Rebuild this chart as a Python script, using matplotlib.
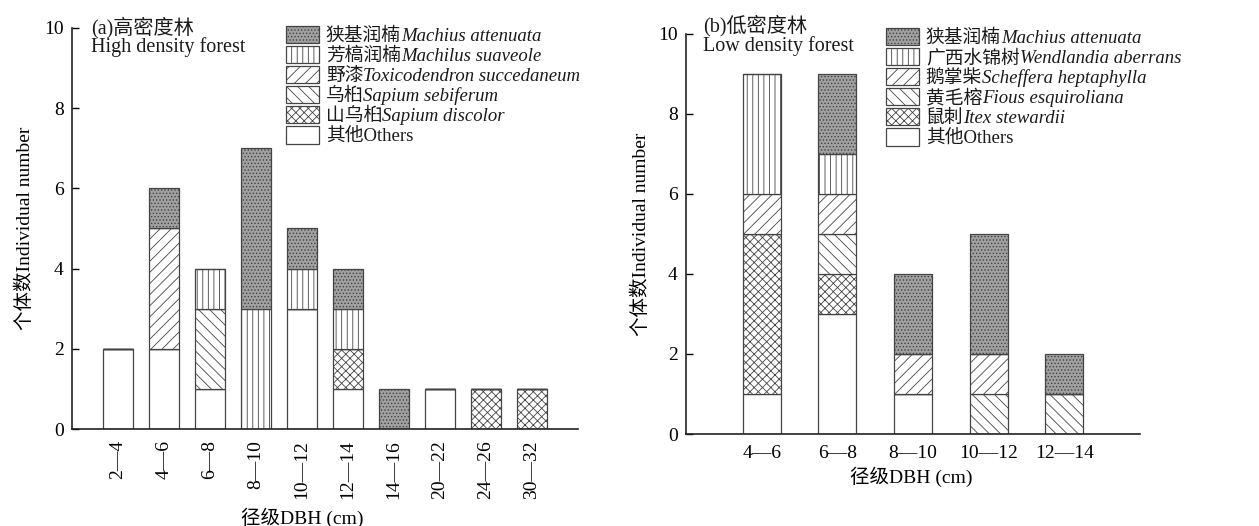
import matplotlib
matplotlib.use('Agg')  # sin entorno gráfico
import matplotlib.pyplot as plt
import numpy as np

plt.rcParams['font.family'] = ['Liberation Serif', 'Noto Sans CJK SC']
plt.rcParams['hatch.linewidth'] = 0.6
plt.rcParams['text.color'] = '#1a1a1a'

# === Datos (a) bosque de alta densidad ===
clases_a = ['2—4', '4—6', '6—8', '8—10', '10—12', '12—14', '14—16', '20—22', '24—26', '30—32']
otros_a = [2, 2, 1, 0, 3, 1, 0, 1, 0, 0]
shan_wujiu_a = [0, 0, 0, 0, 0, 1, 0, 0, 1, 1]
wujiu_a = [0, 0, 2, 0, 0, 0, 0, 0, 0, 0]
yeqi_a = [0, 3, 0, 0, 0, 0, 0, 0, 0, 0]
fanggao_a = [0, 0, 1, 3, 1, 1, 0, 0, 0, 0]
xiaji_a = [0, 1, 0, 4, 1, 1, 1, 0, 0, 0]

# === Datos (b) bosque de baja densidad ===
clases_b = ['4—6', '6—8', '8—10', '10—12', '12—14']
otros_b = [1, 3, 1, 0, 0]
shuci_b = [4, 1, 0, 0, 0]
huangmao_b = [0, 1, 0, 1, 1]
ezhang_b = [1, 1, 1, 1, 0]
guangxi_b = [3, 1, 0, 0, 0]
xiaji_b = [0, 2, 2, 3, 1]

# (serie, nombre chino, nombre latino, trama, relleno) de abajo hacia arriba
series_a = [
    (otros_a, '其他Others', '', '', 'white'),
    (shan_wujiu_a, '山乌桕', 'Sapium discolor', 'xxxx', 'white'),
    (wujiu_a, '乌桕', 'Sapium sebiferum', '\\\\\\', 'white'),
    (yeqi_a, '野漆', 'Toxicodendron succedaneum', '///', 'white'),
    (fanggao_a, '芳槁润楠', 'Machilus suaveole', '|||', 'white'),
    (xiaji_a, '狭基润楠', 'Machius attenuata', '.....', '#a0a0a0'),
]
series_b = [
    (otros_b, '其他Others', '', '', 'white'),
    (shuci_b, '鼠刺', 'Itex stewardii', 'xxxx', 'white'),
    (huangmao_b, '黄毛榕', 'Fious esquiroliana', '\\\\\\', 'white'),
    (ezhang_b, '鹅掌柴', 'Scheffera heptaphylla', '///', 'white'),
    (guangxi_b, '广西水锦树', 'Wendlandia aberrans', '|||', 'white'),
    (xiaji_b, '狭基润楠', 'Machius attenuata', '.....', '#a0a0a0'),
]

borde = '#444444'
fs = 14
fs_leg = 13.5


def dibujar(ax, clases, series, ancho, rot, titulo, tit_y, leg_x, leg_y):
    x = np.arange(len(clases))
    base = np.zeros(len(clases))
    handles = []
    for valores, chino, latino, trama, relleno in series:
        v = np.array(valores, dtype=float)
        b = ax.bar(x, v, ancho, bottom=base, color=relleno, edgecolor=borde,
                   hatch=trama, linewidth=0.9, label=chino)
        handles.append(b)
        base += v
    ax.set_xlim(-1, len(clases))
    ax.set_ylim(0, 10)
    ax.set_yticks([0, 2, 4, 6, 8, 10])
    ax.set_xticks(x)
    if rot:
        ax.set_xticklabels(clases, rotation=90, va='top')
    else:
        ax.set_xticklabels(clases)
    ax.tick_params(axis='y', direction='in', length=5, labelsize=fs, width=1, pad=6)
    ax.tick_params(axis='x', length=0, labelsize=fs, pad=8)
    for s in ['top', 'right']:
        ax.spines[s].set_visible(False)
    for s in ['left', 'bottom']:
        ax.spines[s].set_linewidth(1.2)
        ax.spines[s].set_color('#222222')
    ax.set_ylabel('个体数Individual number', fontsize=fs)
    ax.set_xlabel('径级DBH (cm)', fontsize=fs)
    # título en dos líneas
    for linea, yy in zip(titulo, tit_y):
        ax.text(0.038, yy, linea, transform=ax.transAxes, fontsize=14.5,
                va='baseline', ha='left')

    leg = ax.legend(handles[::-1], [s[1] for s in series][::-1],
                    loc='upper left', bbox_to_anchor=(leg_x, leg_y),
                    frameon=False, fontsize=fs_leg, borderpad=0,
                    borderaxespad=0, handlelength=1.75, handleheight=1.05,
                    handletextpad=0.37, labelspacing=0.05)
    # nombre latino en cursiva detrás del nombre chino
    fig.canvas.draw()
    for t, s in zip(leg.get_texts(), series[::-1]):
        if s[2]:
            ax.annotate(s[2], xy=(1, 0), xycoords=t, va='bottom', ha='left',
                        fontsize=fs_leg, style='italic')


fig = plt.figure(figsize=(12.59, 5.26), dpi=100)
ax1 = fig.add_axes([0.0572, 0.1844, 0.4019, 0.7624])
ax2 = fig.add_axes([0.5449, 0.1749, 0.3606, 0.7605])

dibujar(ax1, clases_a, series_a, 0.65, True, ['(a)高密度林', 'High density forest'],
        [0.9875, 0.940], 0.423, 1.005)
dibujar(ax2, clases_b, series_b, 0.5, False, ['(b)低密度林', 'Low density forest'],
        [1.006, 0.958], 0.4405, 1.015)

ax1.xaxis.set_label_coords(0.456, -0.197)
ax1.yaxis.set_label_coords(-0.075, 0.5)
ax2.xaxis.set_label_coords(0.496, -0.0825)
ax2.yaxis.set_label_coords(-0.079, 0.5)

fig.savefig('out.png', dpi=100)
plt.close(fig)
